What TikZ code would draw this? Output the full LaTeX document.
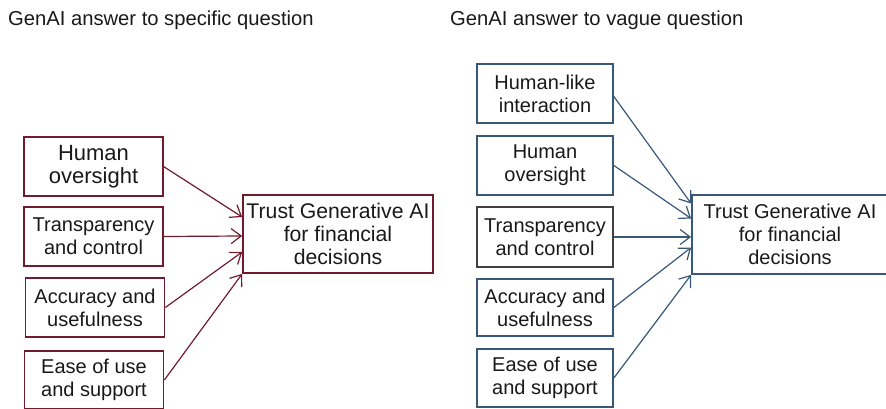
\documentclass[tikz,border=0pt]{standalone}
\usepackage{fontspec}
\setmainfont{Liberation Sans}
\usetikzlibrary{arrows.meta}
\definecolor{wine}{RGB}{112,28,46}
\definecolor{steel}{RGB}{56,88,122}
\definecolor{slate}{RGB}{64,64,64}

\begin{document}
\begin{tikzpicture}[x=1pt,y=-1pt]
        \tikzstyle{every node}=[align=center, inner sep=0pt, text=black!90];
        \tikzstyle{factor}=[draw, line width=1.7pt, minimum width=139pt, minimum height=59pt, font=\fontsize{20}{23}\selectfont];
        \tikzstyle{trust}=[factor, minimum width=190pt, minimum height=78pt];
        \tikzstyle{title}=[anchor=base west, font=\fontsize{20.2}{23}\selectfont];
        \tikzstyle{link}=[line width=1.2pt, -{Straight Barb[length=10pt,width=15pt]}];
        \useasboundingbox (0,0) rectangle (886,409);

        % specific question
        \node[title] (ltitle) at (8,26) {GenAI answer to specific question};
        \node[factor, draw=wine, line width=1.1pt, font=\fontsize{22}{22.5}\selectfont] (lho) at (93.5,166.5) {Human\\oversight};
        \node[factor, draw=wine] (ltc) at (93.5,236.5) {Transparency\\and control};
        \node[factor, draw=wine] (lau) at (95,307.5) {Accuracy and\\usefulness};
        \node[factor, draw=wine, minimum height=58pt] (leu) at (94,380) {Ease of use\\and support};
        \node[trust, draw=wine, font=\fontsize{21.2}{22.8}\selectfont] (ltrust) at (338,234) {Trust Generative AI\\for financial\\decisions};

        \draw[link, wine] (lho.east) -- ([yshift=17pt]ltrust.west);
        \draw[link, wine] (ltc.east) -- ([yshift=-2pt]ltrust.west);
        \draw[link, wine] (lau.east) -- ([yshift=-18pt]ltrust.west);
        \draw[link, wine] (leu.east) -- (ltrust.south west);

        % vague question
        \node[title] (rtitle) at (450,26) {GenAI answer to vague question};
        \node[factor, draw=steel, minimum width=136pt] (rhl) at (545,93.5) {Human-like\\interaction};
        \node[factor, draw=steel, minimum width=136pt] (rho) at (545,165.5) {Human\\oversight};
        \node[factor, draw=slate, minimum width=136pt, minimum height=60pt] (rtc) at (545,237) {Transparency\\and control};
        \node[factor, draw=steel, minimum width=136pt, minimum height=57pt] (rau) at (545,307.5) {Accuracy and\\usefulness};
        \node[factor, draw=steel, minimum width=136pt, minimum height=58pt] (reu) at (545,378) {Ease of use\\and support};
        \node[trust, draw=steel, minimum width=196pt, minimum height=79pt] (rtrust) at (790,234.5) {Trust Generative AI\\for financial\\decisions};

        \draw[link, steel] ([yshift=-3pt]rhl.east) -- ([yshift=31pt]rtrust.west);
        \draw[link, steel] (rho.east) -- ([yshift=16pt]rtrust.west);
        \draw[link, steel] (rtc.east) -- (rtrust.west |- rtc.east);
        \draw[link, steel] (rau.east) -- ([yshift=-13pt]rtrust.west);
        \draw[link, steel] (reu.east) -- (rtrust.south west);
\end{tikzpicture}
\end{document}
